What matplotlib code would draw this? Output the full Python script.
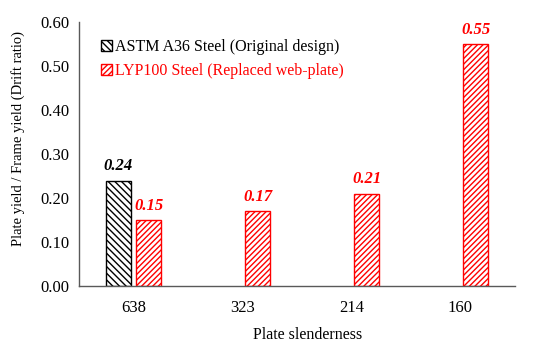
import numpy as np
import matplotlib
matplotlib.use('Agg')
import matplotlib.pyplot as plt

categories = ['638', '323', '214', '160']
a36_values = [0.24, np.nan, np.nan, np.nan]
lyp_values = [0.15, 0.17, 0.21, 0.55]
a36_name = 'ASTM A36 Steel (Original design)'
lyp_name = 'LYP100 Steel (Replaced web-plate)'

plt.rcParams['font.family'] = ['Liberation Serif', 'DejaVu Serif']
plt.rcParams['hatch.linewidth'] = 1.0

fig = plt.figure(figsize=(5.5, 3.46), dpi=100)
ax = fig.add_axes([0.1436, 0.173, 0.7924, 0.763])

x = np.arange(len(categories))
w = 0.23
off = 0.14
b1 = ax.bar(x - off, a36_values, w, color='white', edgecolor='black',
            hatch='\\\\\\\\\\', linewidth=1.0, label=a36_name)
b2 = ax.bar(x + off, lyp_values, w, color='white', edgecolor='#ff0000',
            hatch='//////', linewidth=1.0, label=lyp_name)

# value labels above bars
for xi, v in zip(x, a36_values):
    if not np.isnan(v):
        ax.text(xi - off, v + 0.015, '%.2f' % v, ha='center', va='bottom',
                fontsize=12, fontweight='bold', fontstyle='italic', color='black')
for xi, v in zip(x, lyp_values):
    ax.text(xi + off, v + 0.015, '%.2f' % v, ha='center', va='bottom',
            fontsize=12, fontweight='bold', fontstyle='italic', color='#ff0000')

ax.set_xlim(-0.5, len(categories) - 0.5)
ax.set_ylim(0, 0.6)
ax.set_yticks(np.arange(0, 0.61, 0.1))
ax.set_yticklabels(['%.2f' % t for t in np.arange(0, 0.61, 0.1)])
ax.set_xticks(x)
ax.set_xticklabels(categories)
ax.tick_params(axis='both', length=0, labelsize=12)
ax.tick_params(axis='y', pad=7)
ax.tick_params(axis='x', pad=10)

for s in ['top', 'right']:
    ax.spines[s].set_visible(False)
for s in ['left', 'bottom']:
    ax.spines[s].set_color('#595959')
    ax.spines[s].set_linewidth(1.0)

ax.set_xlabel('Plate slenderness', fontsize=11.5, labelpad=10)
ax.xaxis.set_label_coords(0.525, -0.155)
ax.set_ylabel('Plate yield / Frame yield (Drift ratio)', fontsize=10.5)
ax.yaxis.set_label_coords(-0.124, 0.56)

leg = ax.legend(loc='upper left', bbox_to_anchor=(0.036, 0.96), frameon=False,
                fontsize=11.5, handlelength=0.7, handleheight=0.7,
                handletextpad=0.2, labelspacing=0.5, borderaxespad=0)
leg.get_texts()[1].set_color('#ff0000')

fig.savefig('out.png', dpi=100)
